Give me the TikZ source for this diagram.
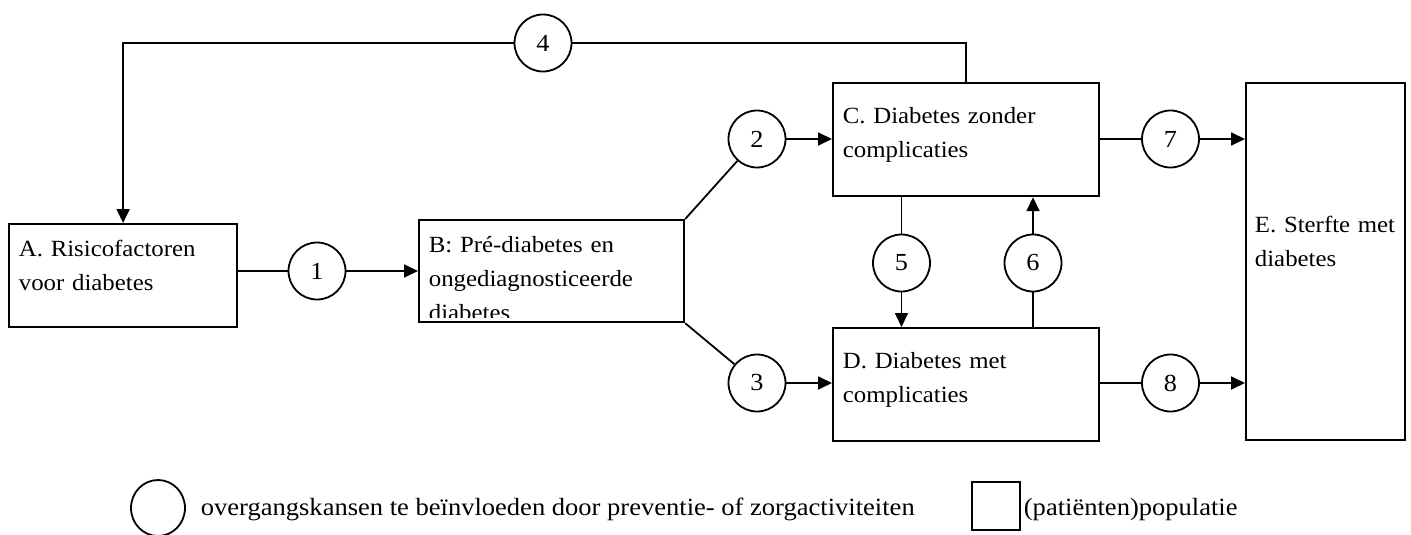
\documentclass[tikz,border=0pt]{standalone}
\usepackage{fontspec}
\setmainfont[FakeStretch=1.07]{Liberation Serif}
\usetikzlibrary{arrows.meta,shapes.geometric}
\frenchspacing
\begin{document}
\begin{tikzpicture}[x=1pt,y=-1pt,
  line width=1.8pt,
  box/.style={draw, rectangle, anchor=north west, inner sep=0pt, line width=2.2pt},
  boxtext/.style={anchor=base west, inner sep=0pt, text width=260pt, align=left,
     font=\fontsize{23.2}{34}\selectfont},
  trans/.style={draw, circle, minimum size=57pt, inner sep=0pt, line width=1.8pt,
     font=\fontsize{24.5}{28}\selectfont},
  arr/.style={-{Triangle[length=14pt,width=13pt]}},
  legtext/.style={anchor=base west, inner sep=0pt, font=\fontsize{24.8}{28}\selectfont}
]
\useasboundingbox (0,0) rectangle (1411,535);
% boxes
\node[box, minimum width=228pt, minimum height=103pt] (A) at (8,223) {};
\node[box, minimum width=265pt, minimum height=102pt] (B) at (418,219) {};
\node[box, minimum width=266pt, minimum height=113pt] (C) at (832,82) {};
\node[box, minimum width=266pt, minimum height=113pt] (D) at (832,327) {};
\node[box, minimum width=159pt, minimum height=357pt] (E) at (1245,82) {};
% box texts
\node[boxtext] (Atxt) at (18,256) {A. Risicofactoren\\voor diabetes};
\begin{scope}
\clip (419,220) rectangle (682,317);
\node[boxtext] (Btxt) at (428,252) {B: Pré-diabetes en\\ongediagnosticeerde\\diabetes};
\end{scope}
\node[boxtext] (Ctxt) at (842,123) {C. Diabetes zonder\\complicaties};
\node[boxtext] (Dtxt) at (842,368) {D. Diabetes met\\complicaties};
\node[boxtext, text width=150pt] (Etxt) at (1254,232) {E. Sterfte met\\diabetes};
% transition circles
\node[trans] (c1) at (317,271) {1};
\node[trans] (c2) at (757,139) {2};
\node[trans] (c3) at (757,383) {3};
\node[trans] (c4) at (543,43) {4};
\node[trans] (c5) at (901.5,263) {5};
\node[trans] (c6) at (1033,263) {6};
\node[trans] (c7) at (1170.5,139) {7};
\node[trans] (c8) at (1170.5,383) {8};
\coordinate (k1) at (A.north |- c4);
\coordinate (k2) at (C.north |- c4);
% connectors
\draw (A.east |- c1) -- (c1);
\draw[arr] (c1) -- (c1 -| B.west);
\draw (B.north east) -- (c2);
\draw[arr] (c2) -- (c2 -| C.west);
\draw (B.south east) -- (c3);
\draw[arr] (c3) -- (c3 -| D.west);
\draw[arr] (c4) -- (k1) -- (A.north);
\draw (c4) -- (k2) -- (C.north);
\draw (C.south -| c5) -- (c5);
\draw[arr] (c5) -- (c5 |- D.north);
\draw (D.north -| c6) -- (c6);
\draw[arr] (c6) -- (c6 |- C.south);
\draw (C.east |- c7) -- (c7);
\draw[arr] (c7) -- (c7 -| E.west);
\draw (D.east |- c8) -- (c8);
\draw[arr] (c8) -- (c8 -| E.west);
% legend
\node[draw, ellipse, minimum width=54pt, minimum height=56pt, inner sep=0pt] (Lc) at (158,508) {};
\node[legtext] (Lctxt) at (200,515) {overgangskansen te beïnvloeden door preventie- of zorgactiviteiten};
\node[box, minimum width=48pt, minimum height=48pt] (Ls) at (971,481) {};
\node[legtext] (Lstxt) at (1023,515) {(patiënten)populatie};
\end{tikzpicture}
\end{document}
